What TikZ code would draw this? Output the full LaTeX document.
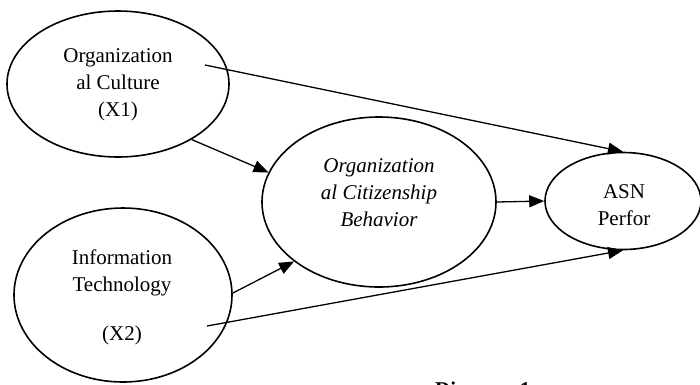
\documentclass[tikz,border=0pt]{standalone}
\usepackage{fontspec}
\setmainfont{Liberation Serif}
\usetikzlibrary{shapes.geometric,arrows.meta}
\begin{document}
\begin{tikzpicture}[x=1pt,y=-1pt,
  oval/.style={ellipse,draw,line width=1.6pt,inner sep=0pt,minimum width=#1},
  lbl/.style={align=center,inner sep=0pt,font=\fontsize{21}{27}\selectfont},
  conn/.style={line width=1.3pt,-{Triangle[length=15pt,width=12pt]}}]
\useasboundingbox (0,0) rectangle (700,384);
\node[oval=222pt,minimum height=146pt] (oc) at (118,84) {};
\node[oval=218pt,minimum height=174pt] (it) at (123,295) {};
\node[oval=234pt,minimum height=170pt] (ocb) at (379,202) {};
\node[oval=156pt,minimum height=97pt] (asn) at (623,201) {};
\node[lbl] (toc) at (118,85) {Organization\\al Culture\\(X1)};
\node[lbl] (tit1) at (122,273) {Information\\Technology};
\node[lbl] (tit2) at (122,335) {(X2)};
\node[lbl,font=\fontsize{21}{27}\selectfont\itshape] (tocb) at (379,193) {Organization\\al Citizenship\\Behavior};
\node[lbl] (tasn) at (624,205) {ASN\\Perfor};
\node[lbl,anchor=base west,font=\fontsize{21}{27}\selectfont\bfseries] (cap) at (435,396.5) {Diagram 1};
\coordinate (s1) at (205,65);
\coordinate (s4) at (207,326);
\draw[conn] (s1) -- (asn.north);
\draw[conn] (oc.-37) -- (ocb.165.6);
\draw[conn] (it.1.5) -- (ocb.215.5);
\draw[conn] (s4) -- (asn.south);
\draw[conn] (ocb.east) -- (asn.west);
\end{tikzpicture}
\end{document}
